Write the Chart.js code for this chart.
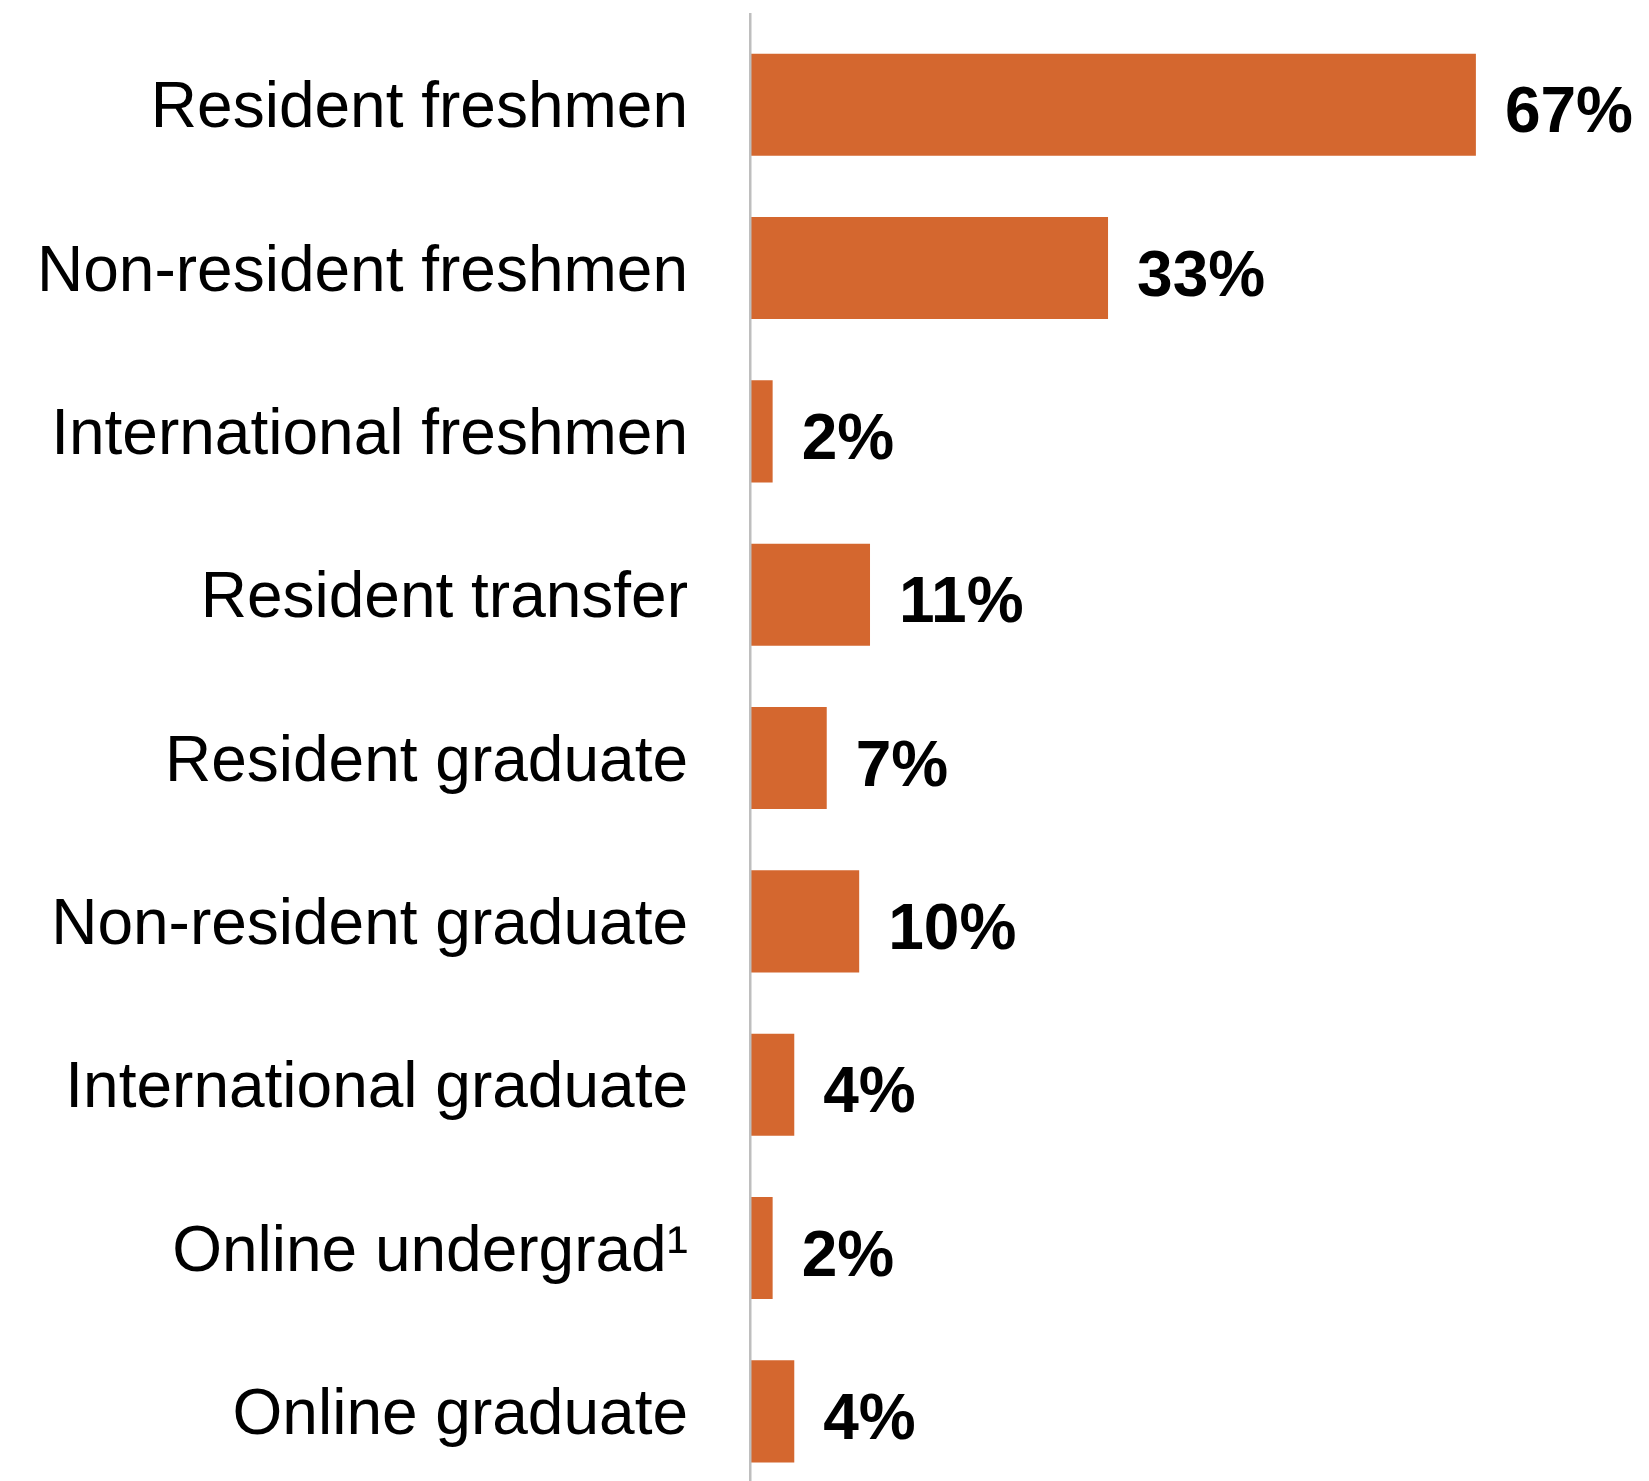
<!DOCTYPE html>
<html>
<head>
<meta charset="utf-8">
<script src="https://cdn.jsdelivr.net/npm/chart.js@4.4.1/dist/chart.umd.min.js"></script>
<style>
  html, body { margin: 0; padding: 0; background: #ffffff; overflow: hidden; }
  /* the plot runs slightly past the bottom edge of the frame */
  #wrap { width: 1649px; height: 1481px; overflow: hidden; }
  #chart { display: block; }
</style>
</head>
<body>
<div id="wrap"><canvas id="chart" width="1649" height="1493"></canvas></div>
<script>
// Student groups and their shares (percent)
const categories = [
  'Resident freshmen',
  'Non-resident freshmen',
  'International freshmen',
  'Resident transfer',
  'Resident graduate',
  'Non-resident graduate',
  'International graduate',
  'Online undergrad\u00B9',
  'Online graduate'
];
const shares = [67, 33, 2, 11, 7, 10, 4, 2, 4];
const valueLabels = shares.map(v => v + '%');

const BAR_COLOR = '#D4672F';
const FONT = '"Liberation Sans", Arial, Helvetica, sans-serif';

// Vertical baseline line along the left edge of the plot
const baselinePlugin = {
  id: 'baseline',
  afterDatasetsDraw(chart) {
    const { ctx, chartArea } = chart;
    ctx.save();
    ctx.strokeStyle = '#BEBEBE';
    ctx.lineWidth = 2.5;
    ctx.beginPath();
    ctx.moveTo(chartArea.left - 0.75, 13);
    ctx.lineTo(chartArea.left - 0.75, chart.height);
    ctx.stroke();
    ctx.restore();
  }
};

// Bold percentage labels just past the end of each bar
const valueLabelPlugin = {
  id: 'valueLabels',
  afterDatasetsDraw(chart) {
    const { ctx } = chart;
    const meta = chart.getDatasetMeta(0);
    ctx.save();
    ctx.font = 'bold 64px ' + FONT;
    ctx.fillStyle = '#000000';
    ctx.textAlign = 'left';
    ctx.textBaseline = 'middle';
    meta.data.forEach((bar, i) => {
      ctx.fillText(valueLabels[i], bar.x + 29, bar.y + 10);
    });
    ctx.restore();
  }
};

new Chart(document.getElementById('chart'), {
  type: 'bar',
  data: {
    labels: categories,
    datasets: [{
      data: shares,
      backgroundColor: BAR_COLOR,
      borderWidth: 0,
      barPercentage: 0.625,
      categoryPercentage: 1.0
    }]
  },
  options: {
    indexAxis: 'y',
    responsive: false,
    animation: false,
    devicePixelRatio: 1,
    layout: { padding: { top: 23, bottom: 0, left: 0, right: 0 } },
    plugins: {
      legend: { display: false },
      tooltip: { enabled: false },
      title: { display: false }
    },
    scales: {
      x: {
        display: false,
        min: 0,
        max: 83
      },
      y: {
        grid: { display: false, drawTicks: false },
        border: { display: false },
        ticks: {
          color: '#000000',
          padding: 63,
          labelOffset: 5,
          font: { family: FONT, size: 64, weight: 'normal' }
        },
        afterFit(scale) {
          scale.width = 751;
          scale.paddingTop = 0;
          scale.paddingBottom = 0;
        }
      }
    }
  },
  plugins: [baselinePlugin, valueLabelPlugin]
});
</script>
</body>
</html>
